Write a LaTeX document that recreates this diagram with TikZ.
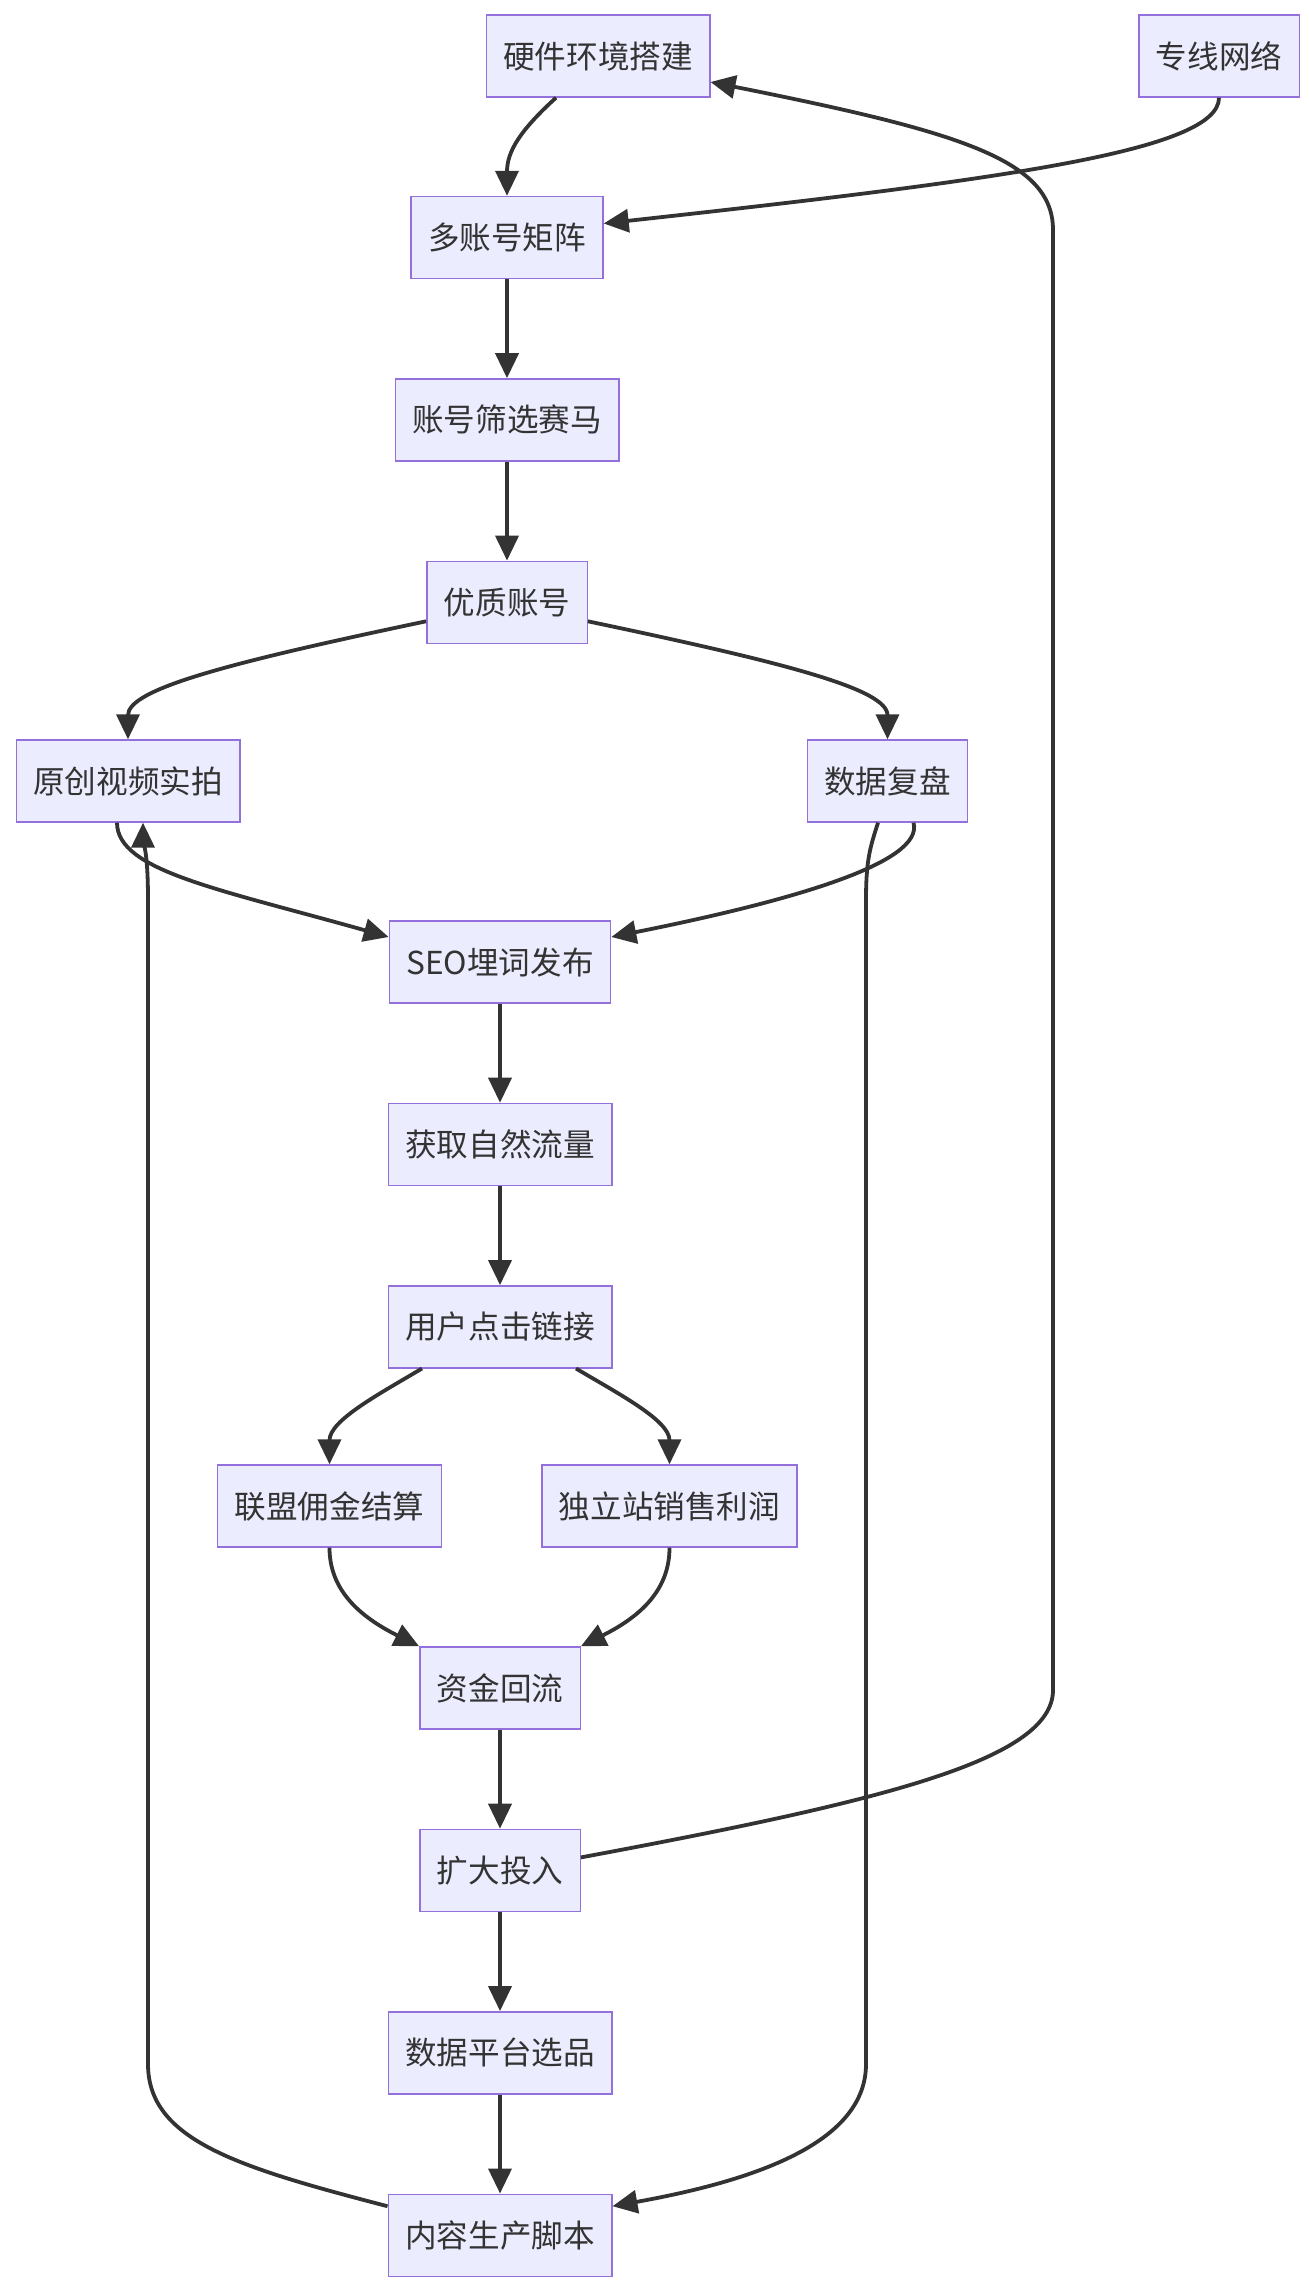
\documentclass[tikz,border=0pt]{standalone}
\usepackage{fontspec}
\setmainfont{Noto Sans CJK SC}
\usepackage{xcolor}
\usepackage{tikz}
\usetikzlibrary{arrows.meta, positioning}
\definecolor{boxfill}{HTML}{ECECFF}
\definecolor{boxline}{HTML}{9370DB}
\definecolor{edgecol}{HTML}{333333}
\tikzset{flowbox/.style={rectangle,draw=boxline,fill=boxfill,line width=0.7pt,text=edgecol,align=center,minimum height=41pt,inner xsep=8.5pt,font=\fontsize{15.8pt}{19pt}\selectfont},
         arrow/.style={-{Triangle[length=12.5pt,width=11.5pt]},line width=1.9pt,draw=edgecol}}
\begin{document}
\begin{tikzpicture}[x=0.5pt,y=-0.5pt,node distance=49.5pt]
    \useasboundingbox (0,0) rectangle (1308,2290);
    \node (hw) [flowbox] at (598,56) {硬件环境搭建};
    \node (net) [flowbox] at (1219,56) {专线网络};
    \node (matrix) [flowbox] at (507,237.5) {多账号矩阵};
    \node (race) [flowbox, below=of matrix] {账号筛选赛马};
    \node (good) [flowbox, below=of race] {优质账号};
    \node (video) [flowbox] at (128,781) {原创视频实拍};
    \node (review) [flowbox] at (887.5,781) {数据复盘};
    \node (seo) [flowbox] at (500,962) {SEO埋词发布};
    \node (traffic) [flowbox, below=of seo] {获取自然流量};
    \node (click) [flowbox, below=of traffic] {用户点击链接};
    \node (aff) [flowbox] at (329.5,1506) {联盟佣金结算};
    \node (shop) [flowbox] at (669.5,1506) {独立站销售利润};
    \node (fund) [flowbox] at (500,1688) {资金回流};
    \node (expand) [flowbox, below=of fund] {扩大投入};
    \node (select) [flowbox, below=of expand] {数据平台选品};
    \node (script) [flowbox, below=of select] {内容生产脚本};
    \foreach \i/\j in {matrix/race,race/good,seo/traffic,traffic/click,fund/expand,expand/select,select/script} {\draw[arrow] (\i) -- (\j);}
    \draw[arrow] ([xshift=-21pt]hw.south) .. controls +(-35,32) and +(0,-45) .. (matrix.north);
    \draw[arrow] (net.south) .. controls +(0,53) and +(400,-44) .. ([yshift=7pt]matrix.east);
    \draw[arrow] ([yshift=6.5pt]expand.east) .. controls +(300,-56) and (1053,1760) .. (1053,1690) -- (1053,230) .. controls (1053,160) and +(250,50) .. ([yshift=-13pt]hw.east);
    \draw[arrow] ([yshift=-9.5pt]good.west) .. controls +(-200,42) and +(0,-50) .. (video.north);
    \draw[arrow] ([yshift=-9.5pt]good.east) .. controls +(200,42) and +(0,-50) .. (review.north);
    \draw[arrow] ([xshift=-5.5pt]video.south) .. controls +(0,48) and +(-170,-48) .. ([yshift=12.5pt]seo.west);
    \draw[arrow] ([xshift=13pt]review.south) .. controls +(11,40) and +(180,-36) .. ([yshift=12.5pt]seo.east);
    \draw[arrow] ([xshift=-4.75pt]review.south) .. controls +(-8,25) and (866,860) .. (866,900) -- (866,2064) .. controls (866,2140) and +(150,-27) .. ([yshift=14.5pt]script.east);
    \draw[arrow] ([yshift=14.5pt]script.west) .. controls +(-150,-39) and (148,2140) .. (148,2064) -- (148,900) .. controls (148,850) and (143,840) .. ([xshift=7.5pt]video.south);
    \draw[arrow] ([xshift=-39pt]click.south) .. controls +(-42,25) and +(0,-44) .. (aff.north);
    \draw[arrow] ([xshift=38pt]click.south) .. controls +(42,25) and +(0,-44) .. (shop.north);
    \draw[arrow] (aff.south) .. controls +(0,42) and +(-60,-30) .. (fund.north west);
    \draw[arrow] (shop.south) .. controls +(0,42) and +(60,-30) .. (fund.north east);
  \end{tikzpicture}
\end{document}
